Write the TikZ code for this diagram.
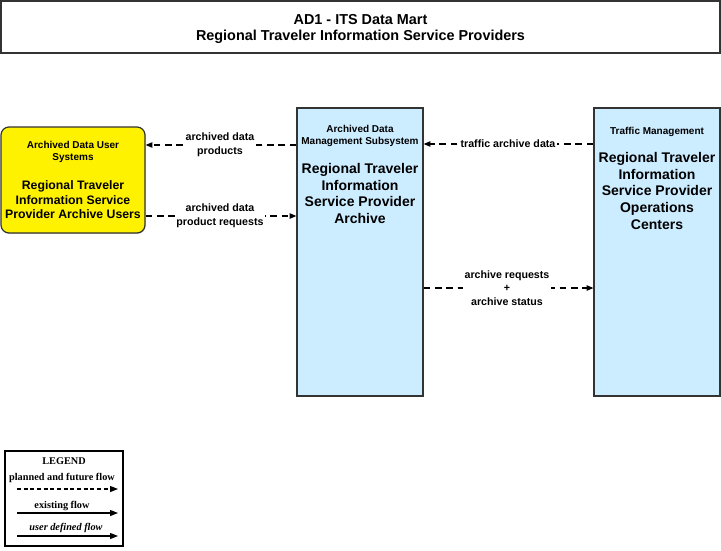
\documentclass[tikz,border=0pt]{standalone}
\usepackage{fontspec}
\setmainfont{Liberation Sans}
\newfontfamily\legendfont{Liberation Serif}
\usetikzlibrary{arrows.meta,shadows}
\pgfdeclarelayer{background}
\pgfsetlayers{background,main}
\definecolor{sysblue}{RGB}{204,236,255}
\definecolor{edgegray}{RGB}{51,51,51}
\tikzset{
  box/.style={draw=edgegray, line width=0.9pt, inner sep=0pt,
    drop shadow={shadow xshift=0.5pt, shadow yshift=-0.7pt, fill=black!35}},
  sysbox/.style={box, fill=sysblue, minimum width=94.5pt, minimum height=216pt},
  userbox/.style={box, fill=yellow, rounded corners=6pt, minimum width=108pt, minimum height=79.5pt},
  subsys/.style={font=\bfseries\fontsize{7.5}{9}\selectfont, align=center, anchor=north, inner sep=0pt},
  entity/.style={font=\bfseries\fontsize{10.5}{12.5}\selectfont, align=center, anchor=north, inner sep=0pt},
  flowlbl/.style={font=\bfseries\fontsize{8}{10.5}\selectfont, align=center, fill=white, inner sep=1pt},
  flow/.style={line width=0.8pt, dash pattern=on 5pt off 3.5pt, -{Triangle[length=5pt,width=4pt]}},
  legtxt/.style={font=\legendfont\bfseries\fontsize{7.7}{9}\selectfont, inner sep=0pt},
  legarrow/.style={line width=0.8pt, -{Triangle[length=6pt,width=4.5pt]}},
}
\begin{document}
\begin{tikzpicture}[x=0.75pt, y=-0.75pt]
\useasboundingbox (0,0) rectangle (721,550);
\node[box, fill=white, minimum width=539.25pt, minimum height=39pt] (title) at (360.5,27){};
\node[font=\bfseries\fontsize{10.8}{12}\selectfont, align=center, anchor=north, inner sep=0pt] (titletxt) at (360.5,14.5)
  {AD1 - ITS Data Mart\\Regional Traveler Information Service Providers};

\node[userbox] (adus) at (73,180){};
\node[subsys] (adussub) at (73,141) {Archived Data User\\Systems};
\node[entity, font=\bfseries\fontsize{9.2}{11}\selectfont] (adusname) at (73,180.5)
  {Regional Traveler\\Information Service\\Provider Archive Users};

\node[sysbox] (arch) at (360,252){};
\node[subsys] (archsub) at (360,125) {Archived Data\\Management Subsystem};
\node[entity] (archname) at (360,163) {Regional Traveler\\Information\\Service Provider\\Archive};

\node[sysbox] (opsctr) at (657,252){};
\node[subsys] (opsctrsub) at (657,126.5) {Traffic Management};
\node[entity] (opsctrname) at (657,152)
  {Regional Traveler\\Information\\Service Provider\\Operations\\Centers};

\node[flowlbl] (lblprod) at (220,145) {archived data\\products};
\node[flowlbl] (lblreq) at (220,216) {archived data\\product requests};
\node[flowlbl] (lbltad) at (508,144) {traffic archive data};
\node[flowlbl, font=\bfseries\fontsize{8}{10}\selectfont] (lblreqstat) at (507,288)
  {archive requests\\+\\archive status};

\begin{pgfonlayer}{background}
\draw[flow] (arch.west |- lblprod) -- (adus.east |- lblprod);
\draw[flow] (adus.east |- lblreq) -- (arch.west |- lblreq);
\draw[flow] (opsctr.west |- lbltad) -- (arch.east |- lbltad);
\draw[flow] (arch.east |- lblreqstat) -- (opsctr.west |- lblreqstat);
\end{pgfonlayer}

\node[draw=black, line width=0.8pt, minimum width=88.5pt, minimum height=71.25pt, inner sep=0pt] (legend) at (64,498.5){};
\node[legtxt] (legtitle) at (64,461) {LEGEND};
\node[legtxt] (legplanned) at (62,478) {planned and future flow};
\node[legtxt] (legexist) at (62,506) {existing flow};
\node[legtxt, font=\legendfont\bfseries\itshape\fontsize{7.7}{9}\selectfont] (leguser) at (66,528) {user defined flow};
\coordinate (p1) at (17,489);
\coordinate (p2) at (118,489);
\coordinate (e1) at (17,513);
\coordinate (e2) at (118,513);
\coordinate (u1) at (17,536);
\coordinate (u2) at (118,536);
\draw[legarrow, dash pattern=on 3pt off 2pt] (p1) -- (p2);
\draw[legarrow] (e1) -- (e2);
\draw[legarrow] (u1) -- (u2);
\end{tikzpicture}
\end{document}
